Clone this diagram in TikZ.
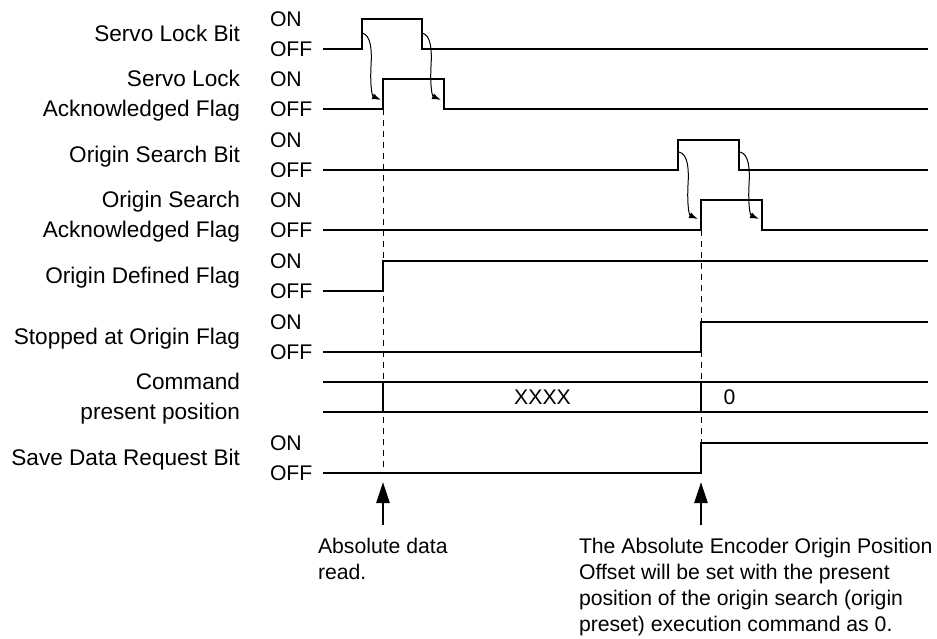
\documentclass[tikz,border=0pt]{standalone}
\usepackage{fontspec}
\setmainfont{Liberation Sans}
\usetikzlibrary{arrows.meta}
\begin{document}
\begin{tikzpicture}[x=1pt,y=-1pt,
  every node/.style={inner sep=0pt,outer sep=0pt,font=\fontsize{21.2}{26}\selectfont},
  sig/.style={line width=2.1pt,line join=miter},
  guide/.style={line width=1pt,dash pattern=on 6pt off 5pt},
  wigg/.style={line width=1pt,-{Latex[length=9pt,width=6pt]}},
  bigarrow/.style={line width=2.5pt,-{Triangle[length=21pt,width=13pt]}},
  lname/.style={anchor=base east,font=\fontsize{22.6}{26}\selectfont},
  lvl/.style={anchor=base west},
  para/.style={anchor=base west,align=left}]
\path[use as bounding box] (0,0) rectangle (937,639);

% signal names
\node[lname] (n1) at (240,41.5) {Servo Lock Bit};
\node[lname] (n2a) at (240,86.5) {Servo Lock\ };
\node[lname] (n2b) at (240,116.5) {Acknowledged Flag};
\node[lname] (n3) at (240,162.5) {Origin Search Bit};
\node[lname] (n4a) at (240,207.5) {Origin Search\ };
\node[lname] (n4b) at (240,237.5) {Acknowledged Flag};
\node[lname] (n5) at (240,283.5) {Origin Defined Flag};
\node[lname] (n6) at (240,344.5) {Stopped at Origin Flag};
\node[lname] (n7a) at (240,389.5) {Command\ };
\node[lname] (n7b) at (240,419.5) {present position};
\node[lname] (n8) at (240,465.5) {Save Data Request Bit};

% ON / OFF
\foreach \on/\off [count=\i] in {19/49,79/109,140/170,200/230,261/291,322/352,443/473}{
  \node[lvl] (on\i) at (270,\on+7.5) {ON};
  \node[lvl] (off\i) at (270,\off+7.5) {OFF};
}

% guides
\draw[guide] (383,109) -- (383,473);
\draw[guide] (701,230) -- (701,473);

% signals
\draw[sig] (323,49) -| (362,19) -| (422,49) -- (928,49);
\draw[sig] (323,109) -| (383,79) -| (444,109) -- (928,109);
\draw[sig] (323,170) -| (678,140) -| (739,170) -- (928,170);
\draw[sig] (323,230) -| (701,200) -| (762,230) -- (928,230);
\draw[sig] (323,291) -| (383,261) -- (928,261);
\draw[sig] (323,352) -| (701,322) -- (928,322);
\draw[sig] (323,382) -- (928,382);
\draw[sig] (323,412) -- (928,412);
\draw[sig] (383,382) -- (383,412);
\draw[sig] (701,382) -- (701,412);
\draw[sig] (323,473) -| (701,443) -- (928,443);

\node (xxxx) at (542.5,397) {XXXX};
\node (zero) at (729.5,397) {0};

% causal arrows
\foreach \dx/\dy in {0/0,60/0,317/119,378/119}{
  \draw[wigg,shift={(\dx,\dy)}] (362,33) .. controls (371,35) and (372,50) .. (371,66)
     .. controls (370,85) and (372,96) .. (381,100);
}

% bottom arrows
\coordinate (a1s) at (383,525);
\coordinate (a1t) at (383,482);
\coordinate (a2s) at (701,525);
\coordinate (a2t) at (701,482);
\draw[bigarrow] (a1s) -- (a1t);
\draw[bigarrow] (a2s) -- (a2t);

\node[para] (t1) at (318,579) {Absolute data\\read.};
\node[para] (t2) at (579,631) {The Absolute Encoder Origin Position\\Offset will be set with the present\\position of the origin search (origin\\preset) execution command as 0.};
\end{tikzpicture}
\end{document}
